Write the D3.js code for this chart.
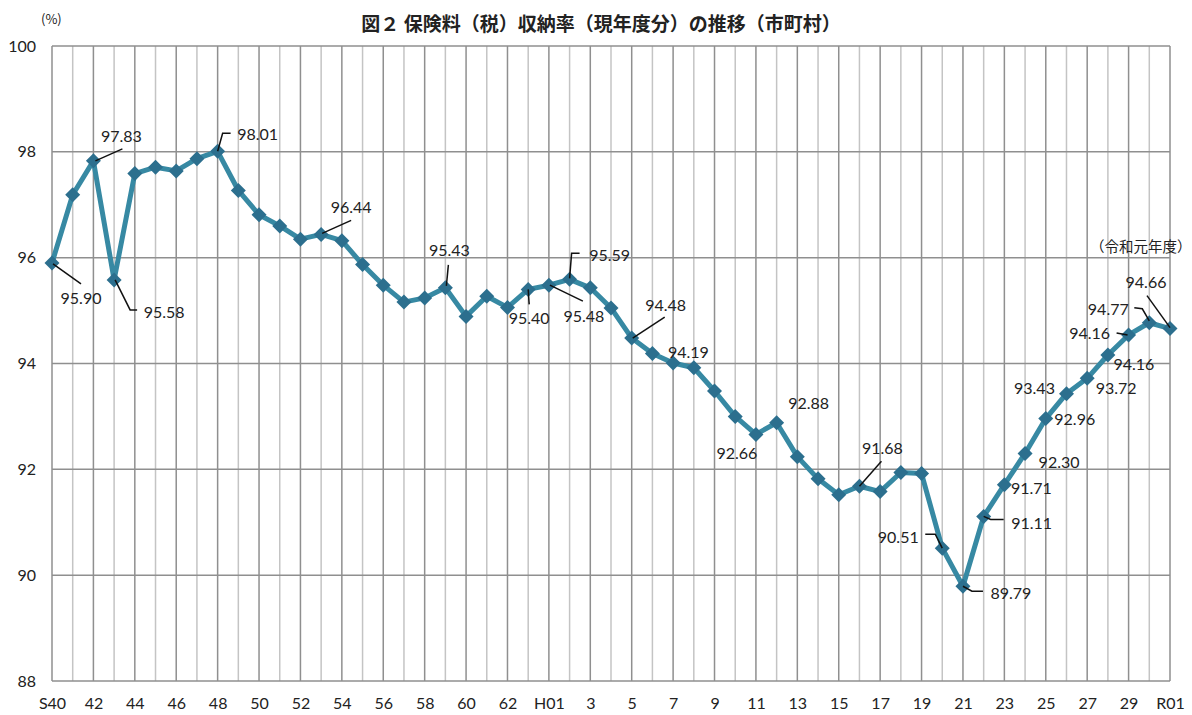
<!DOCTYPE html>
<html>
<head>
<meta charset="utf-8">
<script src="https://d3js.org/d3.v7.min.js"></script>
<style>
  body { margin: 0; background: #fff; }
  svg text { font-family: Lato, "Liberation Sans", sans-serif; fill: #222; }
</style>
</head>
<body>
<div id="chart"></div>
<script>
// years S40..S63, H01..H30, R01
var years = ["S40","41","42","43","44","45","46","47","48","49","50","51","52","53","54","55","56","57","58","59","60","61","62","63",
             "H01","2","3","4","5","6","7","8","9","10","11","12","13","14","15","16","17","18","19","20","21","22","23","24","25","26","27","28","29","30","R01"];
var rates = [95.90, 97.19, 97.83, 95.58, 97.59, 97.71, 97.64, 97.87, 98.01, 97.27,
             96.81, 96.60, 96.35, 96.44, 96.32, 95.87, 95.48, 95.16, 95.24, 95.43,
             94.89, 95.27, 95.06, 95.40, 95.48, 95.59, 95.43, 95.05, 94.48, 94.19,
             94.01, 93.92, 93.48, 93.00, 92.66, 92.88, 92.24, 91.82, 91.52, 91.68,
             91.58, 91.94, 91.92, 90.51, 89.79, 91.11, 91.71, 92.30, 92.96, 93.43,
             93.72, 94.16, 94.54, 94.77, 94.66];
var yTicks = [88, 90, 92, 94, 96, 98, 100];
// labelled points and the text printed beside them
var labelIdx  = [0, 2, 3, 8, 13, 19, 23, 24, 25, 28, 29, 34, 35, 39, 43, 44, 45, 46, 47, 48, 49, 50, 51, 52, 53, 54];
var labelText = ["95.90","97.83","95.58","98.01","96.44","95.43","95.40","95.48","95.59","94.48","94.19","92.66","92.88",
                 "91.68","90.51","89.79","91.11","91.71","92.30","92.96","93.43","93.72","94.16","94.16","94.77","94.66"];

// label placement (pixel offsets from the point) and leader lines
var labelPos = [[29,35],[28,-25],[50,32],[40,-18],[30,-28],[4,-38],[1,28],[35,30],[40,-25],[34,-34],[36,-2],[-19,18],[32,-20],
                [23,-39],[-44,-12],[48,6],[48,6],[27,3],[34,8],[29,0],[-32,-6],[29,9],[26,8],[-39,-2],[-41,-14],[-24,-47]];
var leaders = {
  0: [[1,1],[29,21]],
  2: [[2,0],[29,-12]],
  3: [[1,0],[16,30],[23,30]],
  8: [[0,0],[5,-18],[13,-18]],
  13: [[1,-1],[30,-14]],
  19: [[1,-2],[3,-23]],
  23: [[0,0],[1,15]],
  24: [[1,0],[34,16]],
  25: [[0,-1],[2,-26],[10,-26]],
  28: [[1,0],[33,-21]],
  39: [[0,0],[22,-25]],
  43: [[-17,-14],[-7,-14],[0,0]],
  44: [[0,0],[9,5],[20,5]],
  45: [[0,0],[7,3],[20,3]],
  52: [[-12,-2],[-1,0]],
  53: [[-15,-15],[-7,-14],[0,-2]],
  54: [[-23,-33],[0,-1]]
};

var width = 1192, height = 715;
var svg = d3.select("#chart").append("svg")
  .attr("width", width).attr("height", height);

var x = d3.scaleLinear().domain([0, years.length - 1]).range([52, 1170]);
var y = d3.scaleLinear().domain([88, 100]).range([681, 46]);

// vertical grid
svg.append("g").selectAll("line")
  .data(years.map(function(d, i) { return i; }))
  .enter().append("line")
  .attr("x1", function(d) { return x(d); })
  .attr("x2", function(d) { return x(d); })
  .attr("y1", y(100)).attr("y2", y(88))
  .attr("stroke", function(d) { return d % 2 === 0 ? "#8f8f8f" : "#c4c4c4"; })
  .attr("stroke-width", 1.5);

// horizontal grid
svg.append("g").selectAll("line")
  .data(yTicks)
  .enter().append("line")
  .attr("x1", x(0)).attr("x2", x(years.length - 1))
  .attr("y1", function(d) { return y(d); })
  .attr("y2", function(d) { return y(d); })
  .attr("stroke", "#8f8f8f")
  .attr("stroke-width", 1.5);

// y axis labels
var yAxis = svg.append("g")
  .attr("transform", "translate(" + x(0) + ",0)")
  .call(d3.axisLeft(y).tickValues(yTicks).tickSize(0).tickPadding(16));
yAxis.select(".domain").remove();
yAxis.selectAll("text").style("font-size", "16px").style("font-family", "Lato, sans-serif").attr("fill", "#222");

// x axis labels
var xAxis = svg.append("g")
  .attr("transform", "translate(0," + y(88) + ")")
  .call(d3.axisBottom(x)
    .tickValues(years.map(function(d, i) { return i; }).filter(function(i) { return i % 2 === 0; }))
    .tickFormat(function(i) { return years[i]; })
    .tickSize(0).tickPadding(17));
xAxis.select(".domain").remove();
xAxis.selectAll("text").style("font-size", "16px").style("font-family", "Lato, sans-serif").attr("fill", "#222");

// line
var line = d3.line()
  .x(function(d, i) { return x(i); })
  .y(function(d) { return y(d); });
svg.append("path")
  .datum(rates)
  .attr("d", line)
  .attr("fill", "none")
  .attr("stroke", "#3789a3")
  .attr("stroke-width", 5)
  .attr("stroke-linejoin", "round");

// diamond markers
svg.append("g").selectAll("path")
  .data(rates)
  .enter().append("path")
  .attr("transform", function(d, i) { return "translate(" + x(i) + "," + y(d) + ")"; })
  .attr("d", "M0,-7.5L7.5,0L0,7.5L-7.5,0Z")
  .attr("fill", "#2c6f8e");

// leader lines
Object.keys(leaders).forEach(function(k) {
  var i = +k;
  var px = x(i), py = y(rates[i]);
  svg.append("polyline")
    .attr("points", leaders[k].map(function(p) { return (px + p[0]) + "," + (py + p[1]); }).join(" "))
    .attr("fill", "none")
    .attr("stroke", "#111")
    .attr("stroke-width", 1.5);
});

// data labels
svg.append("g").selectAll("text")
  .data(labelIdx)
  .enter().append("text")
  .attr("x", function(d, j) { return x(d) + labelPos[j][0]; })
  .attr("y", function(d, j) { return y(rates[d]) + labelPos[j][1]; })
  .attr("text-anchor", "middle")
  .attr("dominant-baseline", "central")
  .style("font-size", "16px")
  .text(function(d, j) { return labelText[j]; });

// titles
svg.append("text")
  .attr("x", 601).attr("y", 22)
  .attr("text-anchor", "middle")
  .attr("dominant-baseline", "central")
  .style("font-family", "'Noto Sans CJK JP', sans-serif")
  .style("font-weight", "bold")
  .style("font-size", "19px")
  .text("図２ 保険料（税）収納率（現年度分）の推移（市町村）");

svg.append("text")
  .attr("x", 41).attr("y", 18)
  .attr("dominant-baseline", "central")
  .style("font-family", "'Noto Sans CJK JP', sans-serif")
  .style("font-size", "13px")
  .text("(%)");

svg.append("text")
  .attr("x", 1090).attr("y", 245)
  .attr("dominant-baseline", "central")
  .style("font-family", "'Noto Sans CJK JP', sans-serif")
  .style("font-size", "14.5px")
  .text("（令和元年度）");
</script>
</body>
</html>
